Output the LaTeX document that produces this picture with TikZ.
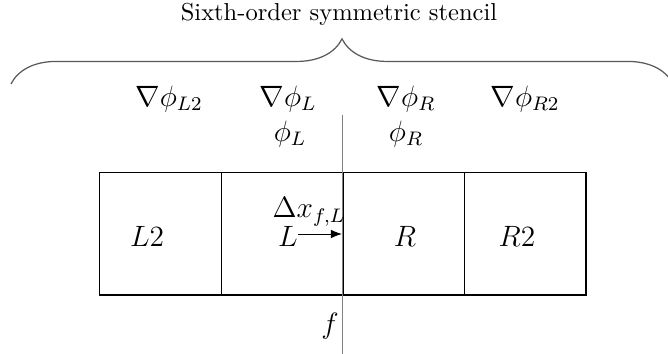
\documentclass[tikz,border=0pt]{standalone}
\usetikzlibrary{decorations.pathreplacing,arrows.meta}
\begin{document}
\begin{tikzpicture}[x=0.408pt,y=-0.408pt,
  cell/.style={draw,line width=0.6pt,minimum width=49.6pt,minimum height=49.8pt,inner sep=0pt,anchor=north west},
  lab/.style={inner sep=0pt,font=\large}]
\useasboundingbox (0,0) rectangle (668,354);
\clip (0,0) rectangle (668,354);
\node[inner sep=0pt] (title) at (339,14) {Sixth-order symmetric stencil};
\coordinate (bl) at (11,84);
\coordinate (br) at (673,84);
\draw[gray!70!black,line width=0.5pt,decorate,decoration={brace,amplitude=18.4pt}] (bl) -- (br);
\node[lab] (gL2) at (169,99) {$\nabla\phi_{L2}$};
\node[lab] (gL) at (288,99) {$\nabla\phi_{L}$};
\node[lab] (gR) at (406,99) {$\nabla\phi_{R}$};
\node[lab] (gR2) at (525,99) {$\nabla\phi_{R2}$};
\node[lab] (pL) at (290,134) {$\phi_{L}$};
\node[lab] (pR) at (406,134) {$\phi_{R}$};
\node[cell] (c1) at (99,172) {};
\node[cell] (c2) at (220.5,172) {};
\node[cell] (c3) at (342,172) {};
\node[cell] (c4) at (463.5,172) {};
\coordinate (ftop) at (342,115);
\coordinate (fbot) at (342,354);
\draw[gray,line width=0.4pt] (ftop) -- (fbot);
\node[lab] (tL2) at (147,236) {$L2$};
\node[lab] (tL) at (288,236) {$L$};
\node[lab] (tR) at (405,236) {$R$};
\node[lab] (tR2) at (517,236) {$R2$};
\coordinate (aend) at (342,234);
\draw[-{Latex[length=4.5pt,width=3.5pt]},line width=0.4pt] (tL.east|-aend) -- (aend);
\node[lab] (dx) at (309,212) {$\Delta x_{f,L}$};
\node[lab] (f) at (330,326) {$f$};
\end{tikzpicture}
\end{document}
